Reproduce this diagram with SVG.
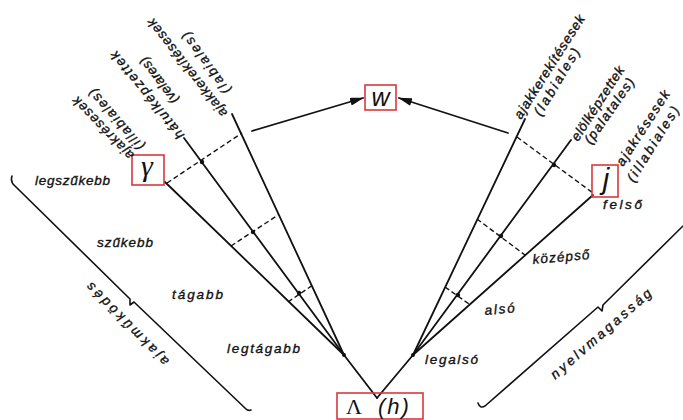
<svg xmlns="http://www.w3.org/2000/svg" width="683" height="420" viewBox="0 0 683 420">
<defs>
<style>
.ln{stroke:#111;stroke-width:1.8;fill:none;stroke-linecap:round}
.ds{stroke:#111;stroke-width:1.4;fill:none;stroke-dasharray:5 3}
.br{stroke:#111;stroke-width:1.6;fill:none;stroke-linejoin:round;stroke-linecap:round}
.dot{fill:#111}
.box{fill:none;stroke:#d8383c;stroke-width:1.6}
.lb{font-family:"Liberation Sans","DejaVu Sans",sans-serif;font-style:italic;font-size:13.5px;fill:#111;stroke:#111;stroke-width:0.35}
.rl{font-family:"Liberation Sans","DejaVu Sans",sans-serif;font-style:italic;font-size:13.5px;fill:#111;stroke:#111;stroke-width:0.35;dominant-baseline:middle}
.sym{font-family:"Liberation Sans","DejaVu Sans",sans-serif;font-style:italic;fill:#111}
</style>
<marker id="ah" viewBox="0 0 14 8" refX="13" refY="4" markerWidth="14" markerHeight="8" markerUnits="userSpaceOnUse" orient="auto">
<path d="M0,0 L14,4 L0,8 Z" fill="#111"/>
</marker>
</defs>
<rect width="683" height="420" fill="#fff"/>

<g id="connectors">
<line class="ln" x1="344" y1="355" x2="165" y2="182"/>
<line class="ln" x1="344" y1="355" x2="184" y2="138"/>
<line class="ln" x1="344" y1="355" x2="232" y2="114"/>
<line class="ln" x1="344" y1="355" x2="377" y2="398"/>
<line class="ln" x1="413" y1="355" x2="525" y2="119"/>
<line class="ln" x1="413" y1="355" x2="571" y2="140"/>
<line class="ln" x1="413" y1="355" x2="593" y2="195"/>
<line class="ln" x1="413" y1="355" x2="377" y2="398"/>
<line class="ds" x1="167" y1="183" x2="242" y2="133"/>
<line class="ds" x1="231" y1="246" x2="278" y2="215"/>
<line class="ds" x1="288" y1="302" x2="313" y2="285"/>
<line class="ds" x1="517" y1="137" x2="593" y2="193"/>
<line class="ds" x1="477" y1="219" x2="525" y2="255"/>
<line class="ds" x1="445" y1="287" x2="469" y2="304"/>
<circle class="dot" cx="202" cy="162" r="2.2"/>
<circle class="dot" cx="253" cy="232" r="2.2"/>
<circle class="dot" cx="299" cy="293" r="2.2"/>
<circle class="dot" cx="554" cy="165" r="2.2"/>
<circle class="dot" cx="501" cy="236" r="2.2"/>
<circle class="dot" cx="458" cy="295" r="2.2"/>
<circle class="dot" cx="344" cy="355" r="2"/>
<circle class="dot" cx="413" cy="355" r="2"/>
<line class="ln" x1="252" y1="131" x2="363" y2="98" marker-end="url(#ah)"/>
<line class="ln" x1="508" y1="133" x2="399" y2="98" marker-end="url(#ah)"/>
<path class="br" d="M12,176 Q10,182 15,186 L130,299 L130,305 L134,302 L246,409 Q248,411 251,410"/>
<path class="br" d="M478,403 Q480,409 485,406 L598,307 L602,311 L603,305 L683,226"/>
</g>

<g id="node-gamma">
<rect class="box" x="132" y="155" width="32" height="30"/>
<text x="147" y="176" text-anchor="middle" style="font-family:'Liberation Serif','DejaVu Serif',serif;font-style:italic;font-size:30px;fill:#111">γ</text>
</g>
<g id="node-w">
<rect class="box" x="365" y="85" width="31" height="25"/>
<text class="sym" x="380.5" y="106" text-anchor="middle" font-size="25">w</text>
</g>
<g id="node-j">
<rect class="box" x="592" y="165" width="26" height="32"/>
<text class="sym" x="606" y="189" text-anchor="middle" font-size="29">j</text>
</g>
<g id="node-lambda">
<rect class="box" x="337" y="393" width="86" height="26"/>
<text x="346" y="414" style="font-family:'Liberation Serif','DejaVu Serif',serif;font-size:22px;fill:#111">Λ<tspan dx="16" style="font-family:'Liberation Sans','DejaVu Sans',sans-serif;font-style:italic;letter-spacing:2px">(h)</tspan></text>
</g>

<g id="labels-left-rays">
<text class="rl" transform="translate(225 115) rotate(-128)" textLength="121" lengthAdjust="spacing">ajakkerekítésesek</text>
<text class="rl" transform="translate(228 92) rotate(-126)" textLength="73" lengthAdjust="spacing">(labiales)</text>
<text class="rl" transform="translate(182 137) rotate(-129)" textLength="109" lengthAdjust="spacing">hátulképzettek</text>
<text class="rl" transform="translate(176 102) rotate(-127)" textLength="55" lengthAdjust="spacing">(velares)</text>
<text class="rl" transform="translate(132 157) rotate(-134)" textLength="82" lengthAdjust="spacing">ajakrésesek</text>
<text class="rl" transform="translate(142 148) rotate(-131)" textLength="77" lengthAdjust="spacing">(illabiales)</text>
</g>
<g id="labels-right-rays">
<text class="rl" transform="translate(518 118) rotate(-57.6)" textLength="120" lengthAdjust="spacing">ajakkerekítésesek</text>
<text class="rl" transform="translate(538 115) rotate(-59)" textLength="76" lengthAdjust="spacing">(labiales)</text>
<text class="rl" transform="translate(575 140) rotate(-57)" textLength="86" lengthAdjust="spacing">elölképzettek</text>
<text class="rl" transform="translate(588 143) rotate(-55)" textLength="77" lengthAdjust="spacing">(palatales)</text>
<text class="rl" transform="translate(620 165) rotate(-57)" textLength="87" lengthAdjust="spacing">ajakrésesek</text>
<text class="rl" transform="translate(631 181) rotate(-58)" textLength="86" lengthAdjust="spacing">(illabiales)</text>
</g>
<g id="labels-levels">
<text class="lb" x="35" y="185" textLength="75" lengthAdjust="spacing">legszűkebb</text>
<text class="lb" x="97" y="247" textLength="56" lengthAdjust="spacing">szűkebb</text>
<text class="lb" x="172" y="299" textLength="51" lengthAdjust="spacing">tágabb</text>
<text class="lb" x="227" y="353" textLength="73" lengthAdjust="spacing">legtágabb</text>
<text class="lb" x="603" y="209" textLength="39" lengthAdjust="spacing">felső</text>
<text class="lb" transform="translate(533 264) rotate(-5)" textLength="57" lengthAdjust="spacing">középső</text>
<text class="lb" transform="translate(485 315) rotate(-5)" textLength="30" lengthAdjust="spacing">alsó</text>
<text class="lb" x="425" y="364" textLength="53" lengthAdjust="spacing">legalsó</text>
</g>
<g id="labels-brackets">
<text class="rl" transform="translate(167 363) rotate(-134.6)" textLength="111" lengthAdjust="spacing">ajakműködés</text>
<text class="rl" transform="translate(553 377) rotate(-41.2)" textLength="129" lengthAdjust="spacing">nyelvmagasság</text>
</g>
</svg>
